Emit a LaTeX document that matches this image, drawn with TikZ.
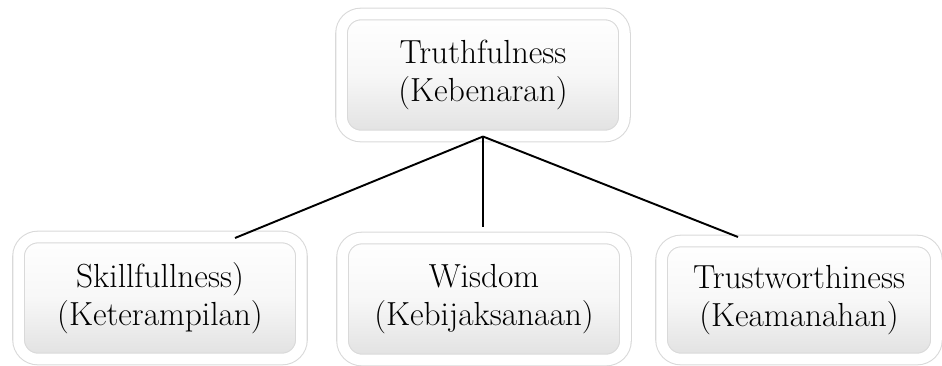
\documentclass[tikz,border=0pt]{standalone}
\usepackage{xcolor}
\usetikzlibrary{shadows}

\begin{document}
\begin{tikzpicture}[x=0.02cm, y=-0.02cm,
    valuebox/.style={draw=gray!30, line width=0.6pt, double=white, double distance=6pt,
        rounded corners=11pt, top color=white, bottom color=gray!24, middle color=gray!6,
        align=center, font=\fontsize{19}{22}\selectfont, text=black,
        minimum width=5.66cm, minimum height=2.44cm,
        drop shadow={opacity=0.3, shadow xshift=0pt, shadow yshift=-1.5pt, shadow scale=1.02}},
    edge/.style={line width=1.1pt, black}]
        \useasboundingbox (0,0) rectangle (942,365);
        \node[valuebox] (truth) at (483,75) {Truthfulness\\(Kebenaran)};
        \node[valuebox] (skill) at (160,298) {Skillfullness)\\(Keterampilan)};
        \node[valuebox] (wisdom) at (484,299) {Wisdom\\(Kebijaksanaan)};
        \node[valuebox, minimum width=5.5cm, minimum height=2.36cm] (trust) at (799,300) {Trustworthiness\\(Keamanahan)};
        \coordinate (skilltop) at (235,238);
        \coordinate (wisdomtop) at (483,227);
        \coordinate (trusttop) at (738,237);
        \draw[edge] (truth.south) -- (skilltop);
        \draw[edge] (truth.south) -- (wisdomtop);
        \draw[edge] (truth.south) -- (trusttop);
    \end{tikzpicture}
\end{document}
